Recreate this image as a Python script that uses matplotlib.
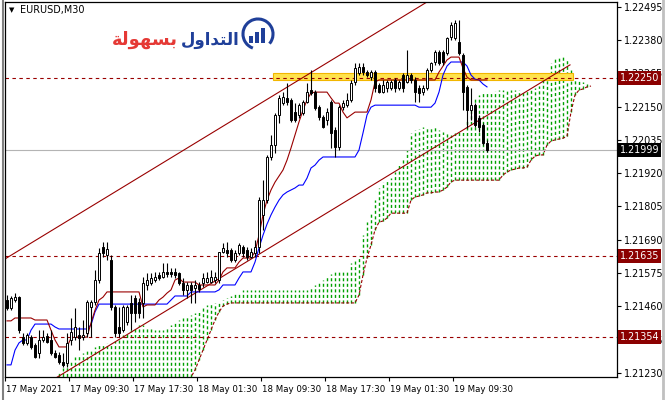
import matplotlib
matplotlib.use('Agg')
import matplotlib.pyplot as plt
from matplotlib.patches import Rectangle, Arc
from matplotlib.collections import LineCollection
import matplotlib.transforms as mtransforms

# ---- data (EURUSD M30) ----
opens = [1.21482, 1.21454, 1.21482, 1.21492, 1.21354, 1.21334, 1.21354, 1.21327, 1.21299, 1.21344,
         1.21358, 1.21344, 1.21299, 1.21292, 1.21268, 1.21264, 1.21344, 1.21354, 1.21361, 1.21354,
         1.21368, 1.21458, 1.21475, 1.21551, 1.21665, 1.21637, 1.21620, 1.21458, 1.21389, 1.21378,
         1.21406, 1.21472, 1.21489, 1.21475, 1.21472, 1.21534, 1.21541, 1.21551, 1.21568, 1.21561,
         1.21579, 1.21579, 1.21579, 1.21575, 1.21541, 1.21517, 1.21534, 1.21523, 1.21534, 1.21541,
         1.21544, 1.21544, 1.21551, 1.21551, 1.21648, 1.21655, 1.21655, 1.21620, 1.21644, 1.21665,
         1.21655, 1.21631, 1.21644, 1.21665, 1.21776, 1.21827, 1.21976, 1.22017, 1.22121, 1.22162,
         1.22180, 1.22173, 1.22131, 1.22121, 1.22128, 1.22166, 1.22207, 1.22200, 1.22148, 1.22114,
         1.22104, 1.22166, 1.22069, 1.22010, 1.22148, 1.22155, 1.22173, 1.22235, 1.22266, 1.22287,
         1.22269, 1.22252, 1.22269, 1.22224, 1.22200, 1.22214, 1.22214, 1.22242, 1.22214, 1.22259,
         1.22235, 1.22259, 1.22242, 1.22214, 1.22200, 1.22214, 1.22276, 1.22304, 1.22338, 1.22338,
         1.22335, 1.22390, 1.22387, 1.22373, 1.22328, 1.22218, 1.22138, 1.22155, 1.22111, 1.22086,
         1.22024]
closes = [1.21454, 1.21489, 1.21492, 1.21378, 1.21334, 1.21361, 1.21320, 1.21285, 1.21344, 1.21354,
          1.21337, 1.21299, 1.21285, 1.21268, 1.21258, 1.21334, 1.21372, 1.21389, 1.21351, 1.21361,
          1.21475, 1.21475, 1.21551, 1.21644, 1.21644, 1.21658, 1.21458, 1.21368, 1.21368, 1.21458,
          1.21458, 1.21437, 1.21437, 1.21437, 1.21541, 1.21551, 1.21558, 1.21561, 1.21558, 1.21579,
          1.21572, 1.21572, 1.21568, 1.21541, 1.21517, 1.21534, 1.21517, 1.21534, 1.21520, 1.21558,
          1.21558, 1.21561, 1.21561, 1.21648, 1.21662, 1.21644, 1.21620, 1.21644, 1.21672, 1.21644,
          1.21631, 1.21648, 1.21665, 1.21827, 1.21827, 1.21976, 1.22017, 1.22121, 1.22180, 1.22183,
          1.22166, 1.22104, 1.22104, 1.22155, 1.22166, 1.22200, 1.22197, 1.22145, 1.22114, 1.22079,
          1.22131, 1.22059, 1.22010, 1.22148, 1.22162, 1.22173, 1.22231, 1.22283, 1.22287, 1.22269,
          1.22259, 1.22269, 1.22214, 1.22200, 1.22224, 1.22235, 1.22235, 1.22214, 1.22235, 1.22214,
          1.22259, 1.22242, 1.22200, 1.22197, 1.22214, 1.22276, 1.22300, 1.22338, 1.22300, 1.22304,
          1.22387, 1.22432, 1.22439, 1.22335, 1.22200, 1.22138, 1.22155, 1.22086, 1.22079, 1.22024,
          1.21999]
highs = [1.21499, 1.21496, 1.21506, 1.21496, 1.21368, 1.21368, 1.21361, 1.21334, 1.21378, 1.21378,
         1.21368, 1.21378, 1.21309, 1.21302, 1.21299, 1.21368, 1.21420, 1.21454, 1.21389, 1.21413,
         1.21482, 1.21482, 1.21586, 1.21662, 1.21682, 1.21682, 1.21637, 1.21465, 1.21458, 1.21465,
         1.21465, 1.21499, 1.21499, 1.21489, 1.21561, 1.21575, 1.21575, 1.21579, 1.21579, 1.21610,
         1.21610, 1.21593, 1.21593, 1.21579, 1.21558, 1.21544, 1.21544, 1.21551, 1.21544, 1.21575,
         1.21579, 1.21586, 1.21579, 1.21648, 1.21679, 1.21682, 1.21662, 1.21655, 1.21679, 1.21672,
         1.21665, 1.21662, 1.21689, 1.21838, 1.21896, 1.21983, 1.22052, 1.22128, 1.22190, 1.22200,
         1.22231, 1.22180, 1.22162, 1.22162, 1.22173, 1.22231, 1.22276, 1.22207, 1.22155, 1.22121,
         1.22145, 1.22173, 1.22079, 1.22155, 1.22173, 1.22197, 1.22242, 1.22300, 1.22300, 1.22300,
         1.22276, 1.22276, 1.22276, 1.22231, 1.22242, 1.22242, 1.22242, 1.22249, 1.22242, 1.22266,
         1.22345, 1.22266, 1.22252, 1.22224, 1.22224, 1.22283, 1.22304, 1.22345, 1.22345, 1.22345,
         1.22390, 1.22442, 1.22449, 1.22449, 1.22335, 1.22224, 1.22214, 1.22162, 1.22121, 1.22093,
         1.22035]
lows = [1.21447, 1.21447, 1.21475, 1.21368, 1.21327, 1.21327, 1.21313, 1.21282, 1.21282, 1.21337,
        1.21334, 1.21292, 1.21282, 1.21261, 1.21251, 1.21251, 1.21327, 1.21344, 1.21309, 1.21344,
        1.21354, 1.21354, 1.21465, 1.21541, 1.21631, 1.21620, 1.21447, 1.21354, 1.21354, 1.21372,
        1.21396, 1.21378, 1.21406, 1.21420, 1.21420, 1.21517, 1.21534, 1.21544, 1.21551, 1.21558,
        1.21561, 1.21561, 1.21558, 1.21534, 1.21499, 1.21489, 1.21472, 1.21472, 1.21510, 1.21527,
        1.21541, 1.21541, 1.21541, 1.21541, 1.21644, 1.21631, 1.21613, 1.21613, 1.21637, 1.21631,
        1.21620, 1.21627, 1.21631, 1.21644, 1.21724, 1.21817, 1.21965, 1.21990, 1.22093, 1.22155,
        1.22155, 1.22097, 1.22097, 1.22111, 1.22121, 1.22162, 1.22190, 1.22138, 1.22104, 1.22076,
        1.22086, 1.22007, 1.21976, 1.22000, 1.22138, 1.22148, 1.22166, 1.22224, 1.22259, 1.22259,
        1.22252, 1.22242, 1.22200, 1.22197, 1.22197, 1.22200, 1.22207, 1.22200, 1.22207, 1.22200,
        1.22231, 1.22231, 1.22166, 1.22166, 1.22190, 1.22207, 1.22269, 1.22294, 1.22294, 1.22294,
        1.22328, 1.22380, 1.22380, 1.22328, 1.22138, 1.22076, 1.22104, 1.22079, 1.22062, 1.22017,
        1.21993]

tenkan = [1.21410, 1.21410, 1.21420, 1.21420, 1.21420, 1.21420, 1.21420, 1.21413, 1.21413, 1.21413,
          1.21413, 1.21378, 1.21344, 1.21320, 1.21320, 1.21320, 1.21351, 1.21354, 1.21354, 1.21354,
          1.21354, 1.21403, 1.21447, 1.21482, 1.21492, 1.21510, 1.21510, 1.21510, 1.21510, 1.21510,
          1.21510, 1.21510, 1.21510, 1.21510, 1.21458, 1.21465, 1.21465, 1.21465, 1.21482, 1.21492,
          1.21506, 1.21517, 1.21551, 1.21558, 1.21544, 1.21544, 1.21544, 1.21544, 1.21534, 1.21534,
          1.21534, 1.21534, 1.21534, 1.21551, 1.21579, 1.21593, 1.21593, 1.21593, 1.21613, 1.21627,
          1.21627, 1.21627, 1.21648, 1.21706, 1.21776, 1.21827, 1.21862, 1.21889, 1.21910, 1.21931,
          1.21965, 1.22007, 1.22052, 1.22097, 1.22138, 1.22173, 1.22197, 1.22200, 1.22200, 1.22200,
          1.22200, 1.22180, 1.22162, 1.22162, 1.22131, 1.22111, 1.22121, 1.22131, 1.22131, 1.22131,
          1.22131, 1.22173, 1.22235, 1.22242, 1.22242, 1.22242, 1.22242, 1.22242, 1.22242, 1.22242,
          1.22242, 1.22242, 1.22242, 1.22242, 1.22242, 1.22242, 1.22242, 1.22242, 1.22269, 1.22290,
          1.22311, 1.22321, 1.22321, 1.22321, 1.22283, 1.22252, 1.22242, 1.22242, 1.22242, 1.22242,
          1.22242]
kijun = [1.21258, 1.21258, 1.21309, 1.21334, 1.21344, 1.21344, 1.21378, 1.21399, 1.21399, 1.21399,
         1.21399, 1.21399, 1.21389, 1.21382, 1.21382, 1.21382, 1.21382, 1.21382, 1.21382, 1.21382,
         1.21382, 1.21396, 1.21441, 1.21468, 1.21468, 1.21468, 1.21468, 1.21468, 1.21468, 1.21468,
         1.21468, 1.21468, 1.21468, 1.21468, 1.21468, 1.21468, 1.21468, 1.21468, 1.21468, 1.21468,
         1.21468, 1.21482, 1.21496, 1.21496, 1.21496, 1.21496, 1.21510, 1.21510, 1.21510, 1.21510,
         1.21510, 1.21510, 1.21510, 1.21517, 1.21534, 1.21534, 1.21534, 1.21534, 1.21558, 1.21579,
         1.21579, 1.21579, 1.21613, 1.21662, 1.21706, 1.21744, 1.21776, 1.21803, 1.21827, 1.21845,
         1.21855, 1.21862, 1.21869, 1.21879, 1.21879, 1.21903, 1.21938, 1.21948, 1.21965, 1.21976,
         1.21976, 1.21976, 1.21976, 1.21976, 1.21976, 1.21976, 1.21976, 1.21976, 1.22000, 1.22059,
         1.22121, 1.22148, 1.22155, 1.22155, 1.22155, 1.22155, 1.22155, 1.22155, 1.22155, 1.22155,
         1.22155, 1.22155, 1.22155, 1.22148, 1.22148, 1.22148, 1.22148, 1.22162, 1.22200, 1.22259,
         1.22290, 1.22304, 1.22304, 1.22304, 1.22304, 1.22290, 1.22259, 1.22245, 1.22242, 1.22228,
         1.22218]

# kumo (cloud) edges from bar KUMO_START on (shifted 26 bars ahead)
KUMO_START = 12
kumo_upper = [1.21216, 1.21233, 1.21247, 1.21261, 1.21275, 1.21285, 1.21292, 1.21299,
              1.21306, 1.21313, 1.21320, 1.21327, 1.21330, 1.21334, 1.21334, 1.21340, 1.21351, 1.21361,
              1.21368, 1.21378, 1.21389, 1.21396, 1.21396, 1.21389, 1.21382, 1.21378, 1.21378, 1.21378,
              1.21385, 1.21396, 1.21403, 1.21413, 1.21420, 1.21423, 1.21430, 1.21437, 1.21447, 1.21458,
              1.21465, 1.21468, 1.21472, 1.21475, 1.21482, 1.21489, 1.21496, 1.21503, 1.21510, 1.21517,
              1.21517, 1.21517, 1.21517, 1.21517, 1.21517, 1.21517, 1.21517, 1.21517, 1.21517, 1.21517,
              1.21517, 1.21517, 1.21517, 1.21517, 1.21517, 1.21517, 1.21527, 1.21534, 1.21541, 1.21551,
              1.21561, 1.21572, 1.21579,
              1.21586, 1.21586, 1.21586, 1.21610, 1.21620, 1.21631, 1.21707,
              1.21751, 1.21782, 1.21827, 1.21869, 1.21890, 1.21896, 1.21903, 1.21924, 1.21948, 1.21972,
              1.22000, 1.22059, 1.22069, 1.22073, 1.22079, 1.22079, 1.22079, 1.22079, 1.22069, 1.22062,
              1.22059, 1.22052, 1.22059, 1.22069, 1.22069, 1.22104, 1.22138, 1.22183, 1.22190, 1.22197,
              1.22200, 1.22200, 1.22204, 1.22207, 1.22207, 1.22207, 1.22207, 1.22207, 1.22207, 1.22204,
              1.22204, 1.22207, 1.22214, 1.22221, 1.22242, 1.22266, 1.22300, 1.22314, 1.22321, 1.22321,
              1.22311, 1.22283, 1.22249, 1.22242, 1.22235, 1.22228, 1.22221]
kumo_lower = [1.21200, 1.21200, 1.21200, 1.21200, 1.21200, 1.21200, 1.21200, 1.21200,
              1.21200, 1.21200, 1.21200, 1.21200, 1.21200, 1.21200, 1.21200, 1.21200, 1.21200, 1.21200,
              1.21200, 1.21200, 1.21200, 1.21200, 1.21200, 1.21200, 1.21200, 1.21200, 1.21200, 1.21200,
              1.21200, 1.21200, 1.21200, 1.21200, 1.21200, 1.21200, 1.21216, 1.21240, 1.21275, 1.21309,
              1.21344, 1.21378, 1.21413, 1.21441, 1.21461, 1.21468, 1.21472, 1.21472, 1.21472, 1.21472,
              1.21472, 1.21472, 1.21472, 1.21472, 1.21472, 1.21472, 1.21472, 1.21472, 1.21472, 1.21472,
              1.21472, 1.21472, 1.21472, 1.21472, 1.21472, 1.21472, 1.21472, 1.21472, 1.21472, 1.21472,
              1.21472, 1.21472, 1.21472, 1.21472, 1.21472, 1.21472, 1.21472, 1.21472, 1.21499, 1.21568,
              1.21627, 1.21672, 1.21724, 1.21751, 1.21755, 1.21765, 1.21782, 1.21782, 1.21782, 1.21782,
              1.21782, 1.21827, 1.21838, 1.21841, 1.21845, 1.21852, 1.21852, 1.21855, 1.21855, 1.21862,
              1.21872, 1.21890, 1.21896, 1.21896, 1.21896, 1.21896, 1.21896, 1.21896, 1.21896, 1.21896,
              1.21896, 1.21896, 1.21896, 1.21896, 1.21914, 1.21924, 1.21931, 1.21934, 1.21938, 1.21938,
              1.21941, 1.21965, 1.21979, 1.21983, 1.21983, 1.22017, 1.22031, 1.22035, 1.22038, 1.22041,
              1.22048, 1.22131, 1.22190, 1.22207, 1.22211, 1.22218, 1.22221]

price_ticks = [1.22495, 1.22380, 1.22265, 1.22150, 1.22035, 1.21920,
               1.21805, 1.21690, 1.21575, 1.21460, 1.21345, 1.21230]
time_labels = ['17 May 2021', '17 May 09:30', '17 May 17:30', '18 May 01:30',
               '18 May 09:30', '18 May 17:30', '19 May 01:30', '19 May 09:30']
time_bars = [-0.5, 15.5, 31.5, 47.5, 63.5, 79.5, 95.5, 111.5]

levels = [1.22250, 1.21635, 1.21354]
bid = 1.21999
# parallel channel: two anchor points of the lower line + width
chan_bars = [-10, 140.75]
chan_lower = [1.21026, 1.22294]
chan_width = 0.00518
# highlighted zone
zone_bars = [66.5, 141.5]
zone_prices = [1.22242, 1.22266]
# logo bar heights (icon next to the Arabic brand name)
logo_bars = [7, 11, 15]

MAROON = '#990000'
KUMO_GREEN = '#00A000'
LOGO_BLUE = '#1F3F99'
plt.rcParams['lines.scale_dashes'] = False
plt.rcParams['font.family'] = ['DejaVu Sans']

fig = plt.figure(figsize=(6.66, 4.0), dpi=100)
W, H = 666.0, 400.0
ax = fig.add_axes([5 / W, 1 - 377 / H, 612 / W, 375 / H])
ax.set_xlim(-0.5, 152.5)
ax.set_ylim(1.212162, 1.225112)

# cloud - dotted vertical hatching, span A as dotted maroon edge
kx = [KUMO_START + k for k in range(len(kumo_upper))]
segs = [[(x, lo), (x, up)] for x, lo, up in zip(kx, kumo_lower, kumo_upper)]
hatch = LineCollection(segs, colors=[KUMO_GREEN], linewidths=[1.0],
                       linestyles=[(0, (2.2, 1.8))], zorder=1)
ax.add_collection(hatch)
ax.plot(kx, kumo_lower, color=MAROON, linewidth=0.8, linestyle=(0, (2.2, 1.4)), zorder=1.2)

# horizontal levels
for lv in levels:
    ax.axhline(lv, color=MAROON, linewidth=0.8, linestyle=(0, (2.5, 2.5)), zorder=2)
ax.axhline(bid, color='#b4b4b4', linewidth=0.8, zorder=1.5)

# yellow zone
ax.add_patch(Rectangle((zone_bars[0], zone_prices[0]), zone_bars[1] - zone_bars[0],
                       zone_prices[1] - zone_prices[0], facecolor='#FFE34D',
                       edgecolor='#F2B600', linewidth=0.8, zorder=1.8))

# channel
ax.plot(chan_bars, chan_lower, color=MAROON, linewidth=0.8, zorder=2)
ax.plot(chan_bars, [p + chan_width for p in chan_lower], color=MAROON, linewidth=0.8, zorder=2)

# ichimoku lines
bars = list(range(len(closes)))
ax.plot(bars, kijun, color='#0000FF', linewidth=0.8, zorder=3)
ax.plot(bars, tenkan, color=MAROON, linewidth=0.8, zorder=3)

# candles
ax.vlines(bars, lows, highs, colors='black', linewidth=0.8, zorder=4)
body_bottom = [min(o, c) for o, c in zip(opens, closes)]
body_h = [max(abs(c - o), 0.000012) for o, c in zip(opens, closes)]
face = ['white' if c >= o else 'black' for o, c in zip(opens, closes)]
ax.bar(bars, body_h, bottom=body_bottom, width=0.55, color=face,
       edgecolor='black', linewidth=0.7, zorder=5)

# axes styling
for s in ax.spines.values():
    s.set_linewidth(0.9)
    s.set_color('black')
ax.yaxis.tick_right()
ax.set_yticks(price_ticks)
ax.set_yticklabels(['%.5f' % p for p in price_ticks])
ax.tick_params(axis='y', direction='out', length=3, width=0.8, pad=2,
               labelsize=6.9, colors='black')
ax.set_xticks(time_bars)
ax.set_xticklabels(time_labels, ha='left')
ax.tick_params(axis='x', direction='out', length=3, width=0.8, pad=3,
               labelsize=6.2)
for lab in ax.get_xticklabels():
    lab.set_transform(lab.get_transform() + mtransforms.ScaledTranslation(1.5 / 100, 0, fig.dpi_scale_trans))

# price labels on the right axis
trans = mtransforms.blended_transform_factory(ax.transAxes, ax.transData)
for lv in levels:
    ax.text(1.004, lv, '%.5f' % lv, transform=trans, fontsize=6.9, color='white',
            va='center', ha='left', clip_on=False, zorder=10,
            bbox=dict(boxstyle='square,pad=0.2', facecolor='#8B0000', edgecolor='none'))
ax.text(1.004, bid, '%.5f' % bid, transform=trans, fontsize=6.9, color='white',
        va='center', ha='left', clip_on=False, zorder=10,
        bbox=dict(boxstyle='square,pad=0.2', facecolor='black', edgecolor='none'))

# header
fig.text(9 / W, 1 - 10 / H, '\u25BC', fontsize=5, va='center', ha='left')
fig.text(20 / W, 1 - 10 / H, 'EURUSD,M30', fontsize=6.9, va='center', ha='left')

# logo text (Arabic, presentation forms in visual order)
fig.text(178 / W, 1 - 40 / H, '\uFE94\uFEDF\uFEEE\uFEEC\uFEB4\uFE91', fontsize=13, fontweight='bold',
         color='#E53935', va='center', ha='right')
fig.text(181 / W, 1 - 40 / H, '\uFEDD\uFEED\uFE8D\uFEAA\uFE98\uFEDF\uFE8D', fontsize=12, fontweight='bold',
         color=LOGO_BLUE, va='center', ha='left')

# logo icon: ring with rising bars
pix = mtransforms.Affine2D().scale(1, -1).translate(0, H)
fig.add_artist(Arc((258, 34), 30, 30, angle=0, theta1=110, theta2=400,
                   color=LOGO_BLUE, linewidth=2.2, transform=pix))
for k, hgt in enumerate(logo_bars):
    fig.add_artist(Rectangle((249 + 6 * k, 43 - hgt), 4, hgt, facecolor=LOGO_BLUE,
                             edgecolor='none', transform=pix))

# window frame
fig.add_artist(plt.Line2D([2.5 / W, 2.5 / W], [0, 1], color='#808080', linewidth=1.5))
fig.add_artist(plt.Line2D([663 / W, 663 / W], [0, 1], color='#c0c0c0', linewidth=2))

fig.savefig('out.png', dpi=100)
